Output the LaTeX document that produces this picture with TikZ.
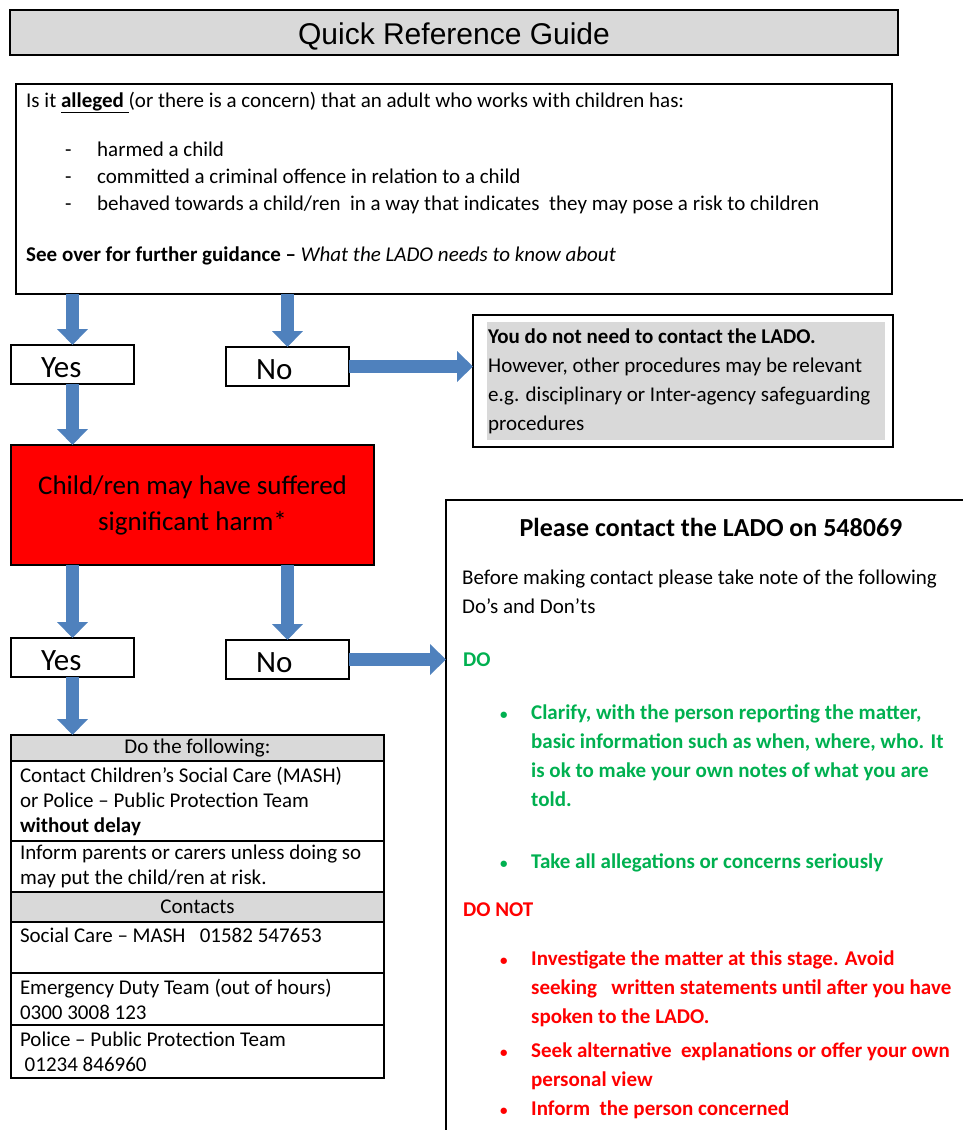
\documentclass[tikz,border=0pt]{standalone}
\usepackage{fontspec}
\setmainfont{Carlito}
\newfontfamily\arialfont{Liberation Sans}
\usetikzlibrary{arrows.meta,positioning}

\definecolor{arrowblue}{HTML}{4F81BD}
\definecolor{boxgray}{HTML}{D9D9D9}
\definecolor{dogreen}{HTML}{00B050}
\definecolor{dontred}{HTML}{FF0000}

\begin{document}
\begin{tikzpicture}[
  x=1pt, y=-1pt,
  frame/.style={draw, line width=1.8pt, rectangle, inner sep=0pt,
                outer sep=0pt, anchor=north west},
  answer/.style={frame, text width=63pt, inner xsep=30pt,
                 minimum height=39pt, align=flush left,
                 text height=26pt, text depth=0pt,
                 font=\fontsize{31}{32}\selectfont},
  tabrow/.style={draw, line width=1.4pt, rectangle, outer sep=0pt,
                 text width=355pt, inner xsep=9pt, inner ysep=0pt,
                 minimum height=#1, align=flush left,
                 font=\fontsize{21}{25}\selectfont},
  tabhead/.style={tabrow=#1, fill=boxgray, align=flush center},
  txt/.style={inner sep=0pt, anchor=north west, align=left},
  fat/.style={draw=arrowblue, line width=13pt,
              -{Triangle[width=30pt,length=16pt]}}
]
\useasboundingbox (0,0) rectangle (963,1130);

% heading
\node[frame, fill=boxgray, line width=2.6pt, minimum width=888pt,
      minimum height=45pt, text height=25pt, text depth=1pt,
      font=\arialfont\fontsize{30}{32}\selectfont]
      (title) at (10,10) {Quick Reference Guide};

% first question
\node[frame, minimum width=876pt, minimum height=210pt] (ask) at (16,84) {};
\node[txt, font=\fontsize{21}{27}\selectfont] (askt) at (26,92) {%
Is it \underline{\textbf{alleged}\ }(or there is a concern) that an adult who works with children has:\\[22pt]
\hspace*{39pt}\makebox[32pt][l]{-}harmed a child\\
\hspace*{39pt}\makebox[32pt][l]{-}committed a criminal offence in relation to a child\\
\hspace*{39pt}\makebox[32pt][l]{-}behaved towards a child/ren\ \ in a way that indicates\ \ they may pose a risk to children\\[24pt]
\textbf{See over for further guidance –} \textit{What the LADO needs to know about}};

\node[answer] (yes1) at (11,345) {Yes};
\node[answer] (no1) at (226,347) {No};

% no referral needed
\node[frame, minimum width=420pt, minimum height=132pt] (nope) at (473,315) {};
\node[txt, fill=boxgray, text width=396pt, inner xsep=1pt, minimum height=118pt,
      align=flush left, font=\fontsize{21}{29}\selectfont] (nopet) at (487,322) {%
\textbf{You do not need to contact the LADO.}\\
However, other procedures may be relevant\\
e.g. disciplinary or Inter-agency safeguarding\\
procedures};

% second question
\node[frame, fill=red, minimum width=363pt, minimum height=120pt,
      align=center, font=\fontsize{27}{36}\selectfont]
      (harm) at (11,445) {Child/ren may have suffered\\significant harm*};

\node[answer] (yes2) at (11,638) {Yes};
\node[answer] (no2) at (226,640) {No};

% actions and contacts
\node[tabhead=26pt, anchor=north west] (dothis) at (11,735) {Do the following:};
\node[tabrow=80pt, below=0pt of dothis] (mash) {Contact Children’s Social Care (MASH)\\or Police – Public Protection Team\\\textbf{without delay}};
\node[tabrow=51pt, below=0pt of mash] (parents) {Inform parents or carers unless doing so\\may put the child/ren at risk.};
\node[tabhead=30pt, below=0pt of parents] (contacts) {Contacts};
\node[tabrow=51pt, below=0pt of contacts] (social) {Social Care – MASH\ \ \ 01582 547653\\[-8pt]\strut};
\node[tabrow=52pt, below=0pt of social] (edt) {Emergency Duty Team (out of hours)\\0300 3008 123};
\node[tabrow=53pt, below=0pt of edt] (police) {Police – Public Protection Team\\\ 01234 846960};

% LADO box
\node[frame, minimum width=560pt, minimum height=700pt] (lado) at (446,500) {};
\node[font=\bfseries\fontsize{26}{30}\selectfont] (ladot) at (711,527) {Please contact the LADO on 548069};
\node[txt, font=\fontsize{21}{29}\selectfont] (before) at (462,570) {%
Before making contact please take note of the following\\Do’s and Don’ts};
\node[txt, text=dogreen, font=\bfseries\fontsize{21}{29}\selectfont] (dohd) at (463,653) {DO};
\node[txt, text=dogreen, font=\bfseries\fontsize{21}{29}\selectfont] (dolist) at (500,705) {%
\makebox[31pt][l]{\fontsize{15}{15}\selectfont\textbullet}Clarify, with the person reporting the matter,\\
\hspace*{31pt}basic information such as when, where, who. It\\
\hspace*{31pt}is ok to make your own notes of what you are\\
\hspace*{31pt}told.\\[33pt]
\makebox[31pt][l]{\fontsize{15}{15}\selectfont\textbullet}Take all allegations or concerns seriously};
\node[txt, text=dontred, font=\bfseries\fontsize{21}{29}\selectfont] (donthd) at (463,903) {DO NOT};
\node[txt, text=dontred, font=\bfseries\fontsize{21}{29}\selectfont] (dontlist) at (500,951) {%
\makebox[31pt][l]{\fontsize{15}{15}\selectfont\textbullet}Investigate the matter at this stage. Avoid\\
\hspace*{31pt}seeking\ \ \ written statements until after you have\\
\hspace*{31pt}spoken to the LADO.\\[5pt]
\makebox[31pt][l]{\fontsize{15}{15}\selectfont\textbullet}Seek alternative\ \ explanations or offer your own\\
\hspace*{31pt}personal view\\
\makebox[31pt][l]{\fontsize{15}{15}\selectfont\textbullet}Inform\ \ the person concerned};

% block arrows
\draw[fat] (yes1.north |- ask.south) -- (yes1.north);
\draw[fat] (no1.north |- ask.south) -- (no1.north);
\draw[fat] (no1.east) -- (no1.east -| nope.west);
\draw[fat] (yes1.south) -- (yes1.south |- harm.north);
\draw[fat] (yes2.north |- harm.south) -- (yes2.north);
\draw[fat] (no2.north |- harm.south) -- (no2.north);
\draw[fat] (no2.east) -- (no2.east -| lado.west);
\draw[fat] (yes2.south) -- (yes2.south |- dothis.north);
\end{tikzpicture}
\end{document}
